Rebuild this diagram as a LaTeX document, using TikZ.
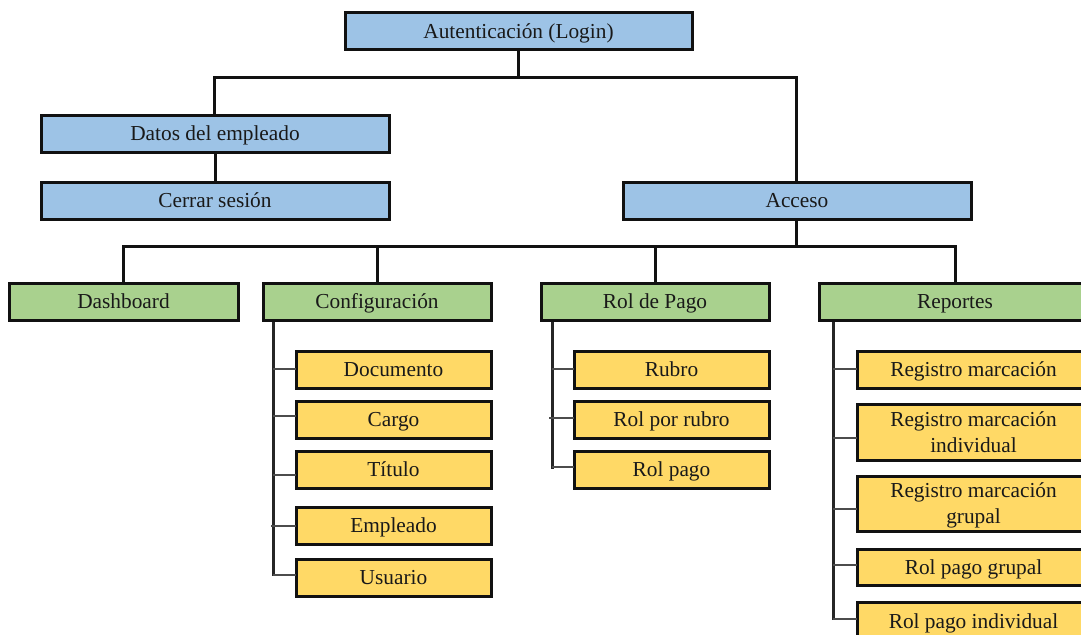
\documentclass[tikz,border=0pt]{standalone}
\usepackage{fontspec}
\setmainfont{Liberation Serif}
\definecolor{bluebox}{HTML}{9DC3E6}
\definecolor{greenbox}{HTML}{A9D18E}
\definecolor{yellowbox}{HTML}{FFD966}
\definecolor{inkline}{HTML}{111111}
\newcommand{\tp}{\rule{0pt}{16pt}}
\newcommand{\bt}{\rule[-4.8pt]{0pt}{4.8pt}}
\tikzset{
  boxbase/.style={draw=inkline,line width=2.25pt,outer sep=0pt,inner sep=0pt,align=center,text=black!90,font=\fontsize{16}{19.5}\selectfont},
  bluenode/.style={boxbase,fill=bluebox},
  greennode/.style={boxbase,fill=greenbox},
  yellownode/.style={boxbase,fill=yellowbox},
  link/.style={draw=inkline,line width=2.25pt},
  tick/.style={draw=black!70,line width=1.1pt},
  spine/.style={draw=black!85,line width=2.25pt}
}
% name, x1, y1, x2, y2, style, text
\newcommand{\boxat}[7]{%
  \pgfmathsetmacro{\bw}{0.75*(#4-#2)}%
  \pgfmathsetmacro{\bh}{0.75*(#5-#3)}%
  \node[#6,minimum width=\bw pt,minimum height=\bh pt] (#1) at ({(#2+#4)/2},{(#3+#5)/2}) {\tp #7\bt};%
}
\begin{document}
\begin{tikzpicture}[x=0.75pt,y=-0.75pt]
\useasboundingbox (0,0) rectangle (1081,635);
\clip (0,0) rectangle (1081,635);
\fill[white] (0,0) rectangle (1081,635);
% connector junctions
\coordinate (busA) at (518,78);
\coordinate (busB) at (796,246);
\coordinate (spC) at (273,320);
\coordinate (spR) at (552,320);
\coordinate (spP) at (833,320);
\coordinate (endC) at (273,576);
\coordinate (endR) at (552,469);
\coordinate (endP) at (833,620);
\coordinate (t1) at (273,369);
\coordinate (t2) at (273,416);
\coordinate (t3) at (273,475);
\coordinate (t4) at (271,526);
\coordinate (t5) at (273,575);
\coordinate (r1) at (552,369);
\coordinate (r2) at (549,418);
\coordinate (r3) at (552,467);
\coordinate (p1) at (833,369);
\coordinate (p2) at (833,438);
\coordinate (p3) at (833,509);
\coordinate (p4) at (833,565);
\coordinate (p5) at (833,619);
\coordinate (dropD) at (214,114);
\coordinate (dropAc) at (796,78);
\coordinate (d1) at (123,246);
\coordinate (d2) at (377,246);
\coordinate (d3) at (655,246);
\coordinate (d4) at (955,246);
% spines
\draw[spine] (spC) -- (endC);
\draw[spine] (spR) -- (endR);
\draw[spine] (spP) -- (endP);
% boxes
\boxat{auth}{345}{13}{692}{50}{bluenode}{Autenticación (Login)}
\boxat{datos}{41}{115}{389}{152}{bluenode}{Datos del empleado}
\boxat{cerrar}{41}{182}{389}{219}{bluenode}{Cerrar sesión}
\boxat{acceso}{623}{182}{971}{219}{bluenode}{Acceso}
\boxat{dash}{9}{283}{238}{320}{greennode}{Dashboard}
\boxat{conf}{263}{283}{491}{320}{greennode}{Configuración}
\boxat{rolp}{541}{283}{769}{320}{greennode}{Rol de Pago}
\boxat{rep}{819}{283}{1091}{320}{greennode}{Reportes}
\boxat{doc}{296}{351}{491}{388}{yellownode}{Documento}
\boxat{cargo}{296}{401}{491}{438}{yellownode}{Cargo}
\boxat{titulo}{296}{451}{491}{488}{yellownode}{Título}
\boxat{emp}{296}{507}{491}{544}{yellownode}{Empleado}
\boxat{usu}{296}{559}{491}{596}{yellownode}{Usuario}
\boxat{rubro}{574}{351}{769}{388}{yellownode}{Rubro}
\boxat{rolrub}{574}{401}{769}{438}{yellownode}{Rol por rubro}
\boxat{rolpago}{574}{451}{769}{488}{yellownode}{Rol pago}
\boxat{rm}{857}{351}{1090}{388}{yellownode}{Registro marcación}
\boxat{rmi}{857}{404}{1090}{460}{yellownode}{Registro marcación\\individual}
\boxat{rmg}{857}{476}{1090}{531}{yellownode}{Registro marcación\\grupal}
\boxat{rpg}{857}{549}{1090}{585}{yellownode}{Rol pago grupal}
\boxat{rpi}{857}{602}{1090}{640}{yellownode}{Rol pago individual}
% branches from the spines to the boxes
\draw[tick] (t1) -- (t1 -| doc.west);
\draw[tick] (t2) -- (t2 -| cargo.west);
\draw[tick] (t3) -- (t3 -| titulo.west);
\draw[tick] (t4) -- (t4 -| emp.west);
\draw[tick] (t5) -- (t5 -| usu.west);
\draw[tick] (r1) -- (r1 -| rubro.west);
\draw[tick] (r2) -- (r2 -| rolrub.west);
\draw[tick] (r3) -- (r3 -| rolpago.west);
\draw[tick] (p1) -- (p1 -| rm.west);
\draw[tick] (p2) -- (p2 -| rmi.west);
\draw[tick] (p3) -- (p3 -| rmg.west);
\draw[tick] (p4) -- (p4 -| rpg.west);
\draw[tick] (p5) -- (p5 -| rpi.west);
% upper tree
\draw[link] (auth.south -| busA) -- (busA);
\draw[link] (datos.north -| dropD) |- (dropAc) -- (acceso.north -| dropAc);
\draw[link] (datos.south) -- (cerrar.north);
\draw[link] (acceso.south -| busB) -- (busB);
\draw[link] (dash.north -| d1) -- (d1) -- (d4) -- (rep.north -| d4);
\draw[link] (d2) -- (conf.north -| d2);
\draw[link] (d3) -- (rolp.north -| d3);
\end{tikzpicture}
\end{document}
